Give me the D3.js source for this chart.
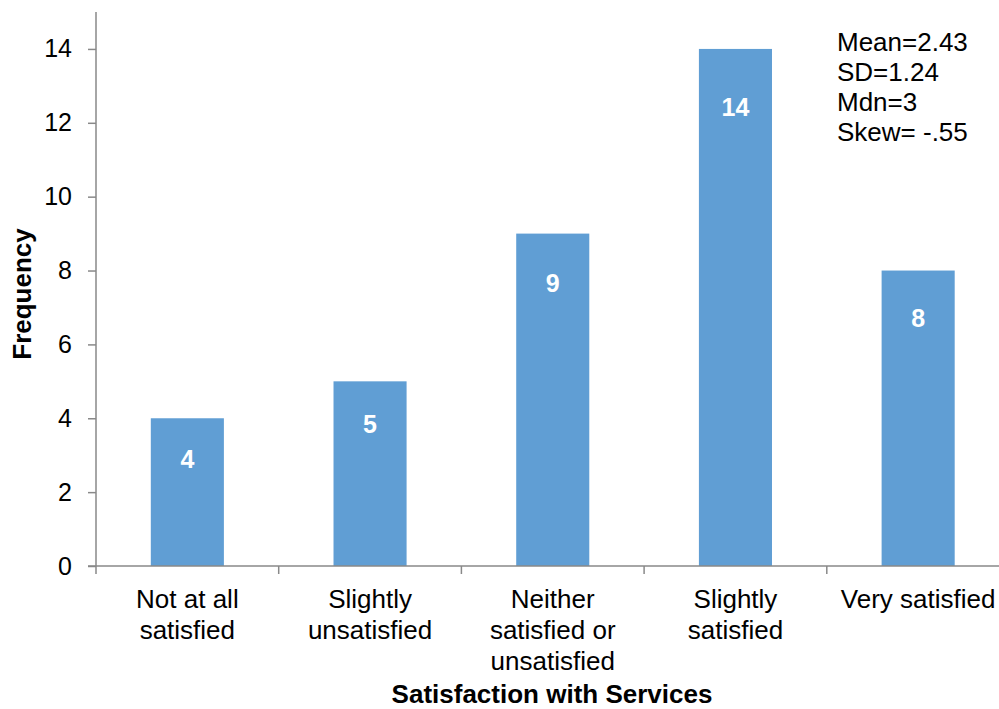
<!DOCTYPE html>
<html>
<head>
<meta charset="utf-8">
<script src="https://cdn.jsdelivr.net/npm/d3@7"></script>
<style>
  body { margin: 0; background: #fff; }
  text { font-family: "Liberation Sans", Arial, sans-serif; }
</style>
</head>
<body>
<div id="chart"></div>
<script>
let categories = [["Not at all", "satisfied"], ["Slightly", "unsatisfied"], ["Neither", "satisfied or", "unsatisfied"], ["Slightly", "satisfied"], ["Very satisfied"]];
let values = [4, 5, 9, 14, 8];
let yTicks = [0, 2, 4, 6, 8, 10, 12, 14];
let stats = ["Mean=2.43", "SD=1.24", "Mdn=3", "Skew= -.55"];

let width = 999, height = 709;
let margin = {left: 96, top: 12, bottom: 143};
let axisColor = "#898989";
let fontSize = "25px";

let svg = d3.select("#chart")
    .append("svg")
    .attr("width", width)
    .attr("height", height);

let x = d3.scaleBand()
    .domain(d3.range(categories.length))
    .range([margin.left, margin.left + 182.7 * categories.length])
    .paddingInner(0.6)
    .paddingOuter(0.3);

let y = d3.scaleLinear()
    .domain([0, 15])
    .range([height - margin.bottom, margin.top]);

// bars
svg.selectAll("rect.bar")
    .data(values)
    .enter()
    .append("rect")
    .attr("class", "bar")
    .attr("fill", "#609ED4")
    .attr("x", function(d, i) { return x(i); })
    .attr("y", function(d) { return y(d); })
    .attr("width", x.bandwidth())
    .attr("height", function(d) { return y(0) - y(d); });

// value labels
svg.selectAll("text.val")
    .data(values)
    .enter()
    .append("text")
    .attr("class", "val")
    .attr("x", function(d, i) { return x(i) + x.bandwidth() / 2; })
    .attr("y", function(d) { return y(d) + 43 + d * 1.7; })
    .attr("text-anchor", "middle")
    .attr("fill", "#fff")
    .attr("font-weight", "bold")
    .style("font-size", fontSize)
    .text(function(d) { return d; });

// y axis
let yAxis = svg.append("g")
    .attr("transform", `translate(${margin.left}, 0)`)
    .call(d3.axisLeft(y).tickValues(yTicks).tickSize(8).tickPadding(16));
yAxis.select(".domain").attr("stroke", axisColor).attr("stroke-width", 1.5).attr("d", `M0,${y(0)}V${margin.top}`);
yAxis.selectAll(".tick line").attr("stroke", axisColor).attr("stroke-width", 1.5);
yAxis.selectAll(".tick text").style("font-size", fontSize).attr("fill", "#000")
    .attr("font-family", "Liberation Sans, Arial, sans-serif");

// x axis
let xAxisG = svg.append("g").attr("transform", `translate(0, ${y(0)})`);
xAxisG.append("line")
    .attr("x1", margin.left - 8).attr("x2", width)
    .attr("stroke", axisColor).attr("stroke-width", 1.5);
let step = x.step();
xAxisG.selectAll("line.tick")
    .data(d3.range(categories.length + 1))
    .enter()
    .append("line")
    .attr("class", "tick")
    .attr("x1", function(i) { return margin.left + i * step; })
    .attr("x2", function(i) { return margin.left + i * step; })
    .attr("y1", 0).attr("y2", 8)
    .attr("stroke", axisColor).attr("stroke-width", 1.5);

let catLabels = xAxisG.selectAll("text.cat")
    .data(categories)
    .enter()
    .append("text")
    .attr("class", "cat")
    .attr("text-anchor", "middle")
    .style("font-size", "26px")
    .attr("fill", "#000")
    .attr("transform", function(d, i) { return `translate(${x(i) + x.bandwidth() / 2}, 42)`; });
catLabels.selectAll("tspan")
    .data(function(d) { return d; })
    .enter()
    .append("tspan")
    .attr("x", 0)
    .attr("dy", function(d, j) { return j === 0 ? 0 : 31; })
    .text(function(d) { return d; });

// axis titles
svg.append("text")
    .attr("transform", `translate(31, 294) rotate(-90)`)
    .attr("text-anchor", "middle")
    .attr("font-weight", "bold")
    .style("font-size", "26px")
    .text("Frequency");

svg.append("text")
    .attr("x", 552)
    .attr("y", 703)
    .attr("text-anchor", "middle")
    .attr("font-weight", "bold")
    .style("font-size", "26px")
    .text("Satisfaction with Services");

// stats box
svg.append("g").selectAll("text")
    .data(stats)
    .enter()
    .append("text")
    .attr("x", 837)
    .attr("y", function(d, i) { return 51 + i * 30; })
    .style("font-size", "26px")
    .text(function(d) { return d; });
</script>
</body>
</html>
